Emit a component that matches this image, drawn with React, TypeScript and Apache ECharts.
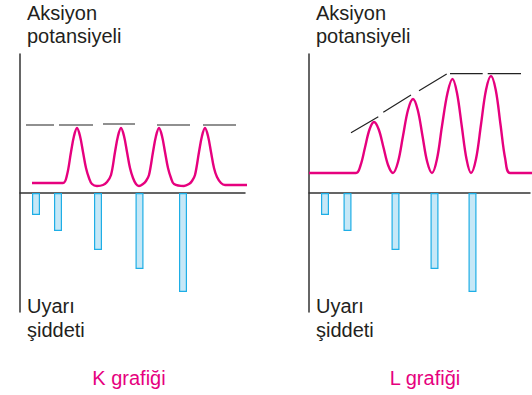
import React, { useEffect, useRef } from "react";
import * as echarts from "echarts";

// Values are in the chart's own units: x = distance from the vertical axis, y = height above the stimulus axis.
const kCurve: [number, number][] = [
  [12, 10], [43, 10], [47, 18], [51, 41], [54, 57], [57, 65], [60, 57], [63, 41], [66, 25], [69, 15], [72, 9], [77, 7],
  [83, 8], [87, 11], [91, 18], [95, 41], [98, 57], [101, 65], [104, 57], [107, 41], [110, 25], [113, 15], [116, 9], [119, 7],
  [123, 9], [126, 12], [129, 18], [133, 41], [136, 57], [139, 65], [142, 57], [145, 41], [148, 25], [151, 15], [154, 9], [164, 7],
  [169, 9], [172, 12], [175, 18], [179, 41], [182, 57], [185, 65], [188, 57], [191, 41], [194, 25], [197, 16], [201, 10], [205, 8], [228, 8],
];
const kDashes: ([number, number] | "-")[] = [
  [6, 68], [34, 68], "-", [39, 68], [73, 68], "-", [83, 69], [115, 69], "-", [137, 68], [170, 68], "-", [183, 68], [216, 68],
];
const kBarX = [16, 38, 78, 119.5, 163];
const kBarY = [-22, -38, -57, -76, -99];

const lCurve: [number, number][] = [
  [0, 20], [47, 20], [51.5, 27.5], [56, 45.5], [60.5, 63.5], [65, 71], [69.75, 63.5], [74.5, 45.5], [79.25, 27.5], [84, 20],
  [89, 31], [94, 57], [99, 83], [104, 94], [108.75, 83], [113.5, 57], [118.25, 31], [123, 20],
  [128, 34], [133, 67], [138.5, 100], [143.5, 114], [148, 100], [152.75, 67], [157.5, 34], [162, 20],
  [167, 34], [172, 68.5], [177, 103], [182, 117], [186.75, 103], [191.5, 68.5], [196.25, 34], [201, 20], [223, 20],
];
const lDashes: ([number, number] | "-")[] = [
  [42, 60.3], [69.3, 76.3], "-", [74.3, 80.7], [102, 98], "-", [110, 102.3], [137.7, 119], "-",
  [141, 119.3], [173.7, 119.3], "-", [178.7, 119.3], [212, 119.3],
];
const lBarX = [16, 38.5, 86.5, 125.5, 163.5];
const lBarY = [-22, -38, -57, -76, -99];

const yAxisLabelTop = ["Aksiyon", "potansiyeli"];
const yAxisLabelBottom = ["Uyarı", "şiddeti"];
const titles = ["K grafiği", "L grafiği"];

const PINK = "#e6007e";
const AXIS = "#333333";
const FONT = "Liberation Sans, Arial, sans-serif";

export default function App() {
  const ref = useRef<HTMLDivElement>(null);
  useEffect(() => {
    if (!ref.current) return;
    const chart = echarts.init(ref.current, null, { renderer: "svg" });
    const axisStyle = { lineStyle: { color: AXIS, width: 1.5 } };
    const mkX = (i: number, max: number) => ({
      type: "value", gridIndex: i, min: 0, max,
      axisLine: { show: true, onZero: true, ...axisStyle },
      axisTick: { show: false }, axisLabel: { show: false }, splitLine: { show: false },
    });
    const mkY = (i: number) => ({
      type: "value", gridIndex: i, min: -119, max: 139,
      axisLine: { show: true, onZero: false, ...axisStyle },
      axisTick: { show: false }, axisLabel: { show: false }, splitLine: { show: false },
    });
    const txt = (x: number, y: number, s: string, color = "#231f20", align = "left") => ({
      type: "text", x, y,
      style: { text: s, fill: color, font: `20px ${FONT}`, align, verticalAlign: "middle" },
    });
    const bars = (i: number, xs: number[], ys: number[]) => ({
      type: "bar", xAxisIndex: i, yAxisIndex: i, barWidth: 8,
      data: xs.map((x, k) => [x, ys[k]]),
      itemStyle: { color: "#c6e8f7", borderColor: "#1eaee6", borderWidth: 1.2 },
    });
    const curve = (i: number, d: [number, number][]) => ({
      type: "line", xAxisIndex: i, yAxisIndex: i, data: d, smooth: 0.35, showSymbol: false, clip: false,
      lineStyle: { color: PINK, width: 2.4 },
    });
    const dashes = (i: number, d: any[]) => ({
      type: "line", xAxisIndex: i, yAxisIndex: i, data: d, showSymbol: false, clip: false, connectNulls: false,
      lineStyle: { color: "#222222", width: 1.2 },
    });
    chart.setOption({
      animation: false,
      backgroundColor: "#ffffff",
      grid: [
        { left: 20, top: 54, width: 225, height: 258 },
        { left: 309, top: 54, width: 221, height: 258 },
      ],
      xAxis: [mkX(0, 225), mkX(1, 221)],
      yAxis: [mkY(0), mkY(1)],
      series: [
        bars(0, kBarX, kBarY), curve(0, kCurve), dashes(0, kDashes),
        bars(1, lBarX, lBarY), curve(1, lCurve), dashes(1, lDashes),
      ],
      graphic: [
        txt(27, 13.1, yAxisLabelTop[0]), txt(27, 36.3, yAxisLabelTop[1]),
        txt(27, 306.1, yAxisLabelBottom[0]), txt(27, 330, yAxisLabelBottom[1]),
        txt(316, 13.1, yAxisLabelTop[0]), txt(316, 36.3, yAxisLabelTop[1]),
        txt(316, 306.1, yAxisLabelBottom[0]), txt(316, 330, yAxisLabelBottom[1]),
        txt(129, 378.1, titles[0], PINK, "center"), txt(425, 378.1, titles[1], PINK, "center"),
      ],
    });
    return () => chart.dispose();
  }, []);
  return <div ref={ref} style={{ position: "fixed", left: 0, top: 0, width: 532, height: 395 }} />;
}
